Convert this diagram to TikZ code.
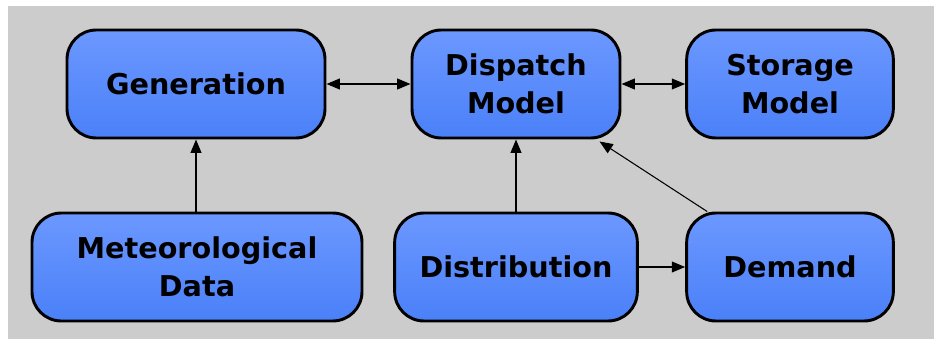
\documentclass[tikz,border=0pt]{standalone}
\usepackage{fontspec}
\setmainfont{DejaVu Sans}
\usetikzlibrary{arrows.meta}
\definecolor{boxtop}{RGB}{108,152,255}
\definecolor{boxbot}{RGB}{74,128,248}
\definecolor{bggray}{RGB}{204,204,204}
\tikzstyle{blk}=[draw=black,line width=2.2pt,rounded corners=22pt,top color=boxtop,bottom color=boxbot,align=center,font=\fontsize{21.5}{28.5}\selectfont\bfseries,minimum height=81pt,inner sep=0pt]
\tikzstyle{con}=[line width=1.3pt,-{Triangle[length=10pt,width=8pt]}]
\tikzstyle{dcon}=[con,{Triangle[length=10pt,width=8pt]}-{Triangle[length=10pt,width=8pt]}]

\begin{document}
\begin{tikzpicture}[x=0.75pt,y=-0.75pt]
\useasboundingbox (0,0) rectangle (934,339);
\fill[white] (0,0) rectangle (934,339);
\fill[bggray] (8,6) rectangle (934,339);
% top row
\node[blk,minimum width=193.5pt] (gen) at (196,84) {Generation};
\node[blk,minimum width=156pt] (disp) at (516,84) {Dispatch\\Model};
\node[blk,minimum width=155pt] (stor) at (790,84) {Storage\\Model};
% bottom row
\node[blk,minimum width=247.5pt] (met) at (197,267) {Meteorological\\Data};
\node[blk,minimum width=182pt] (dist) at (516,267) {Distribution};
\node[blk,minimum width=155pt] (dem) at (790,267) {Demand};
% links
\draw[dcon] (gen.east) -- (disp.west);
\draw[dcon] (disp.east) -- (stor.west);
\draw[con] (met.north -| gen.south) -- (gen.south);
\draw[con] (dist.north) -- (disp.south);
\draw[con] (dist.east) -- (dem.west);
\draw[con,line width=0.8pt] ([xshift=16.5pt]dem.north west) -- ([xshift=-16.5pt,yshift=-1.5pt]disp.south east);
\end{tikzpicture}
\end{document}
